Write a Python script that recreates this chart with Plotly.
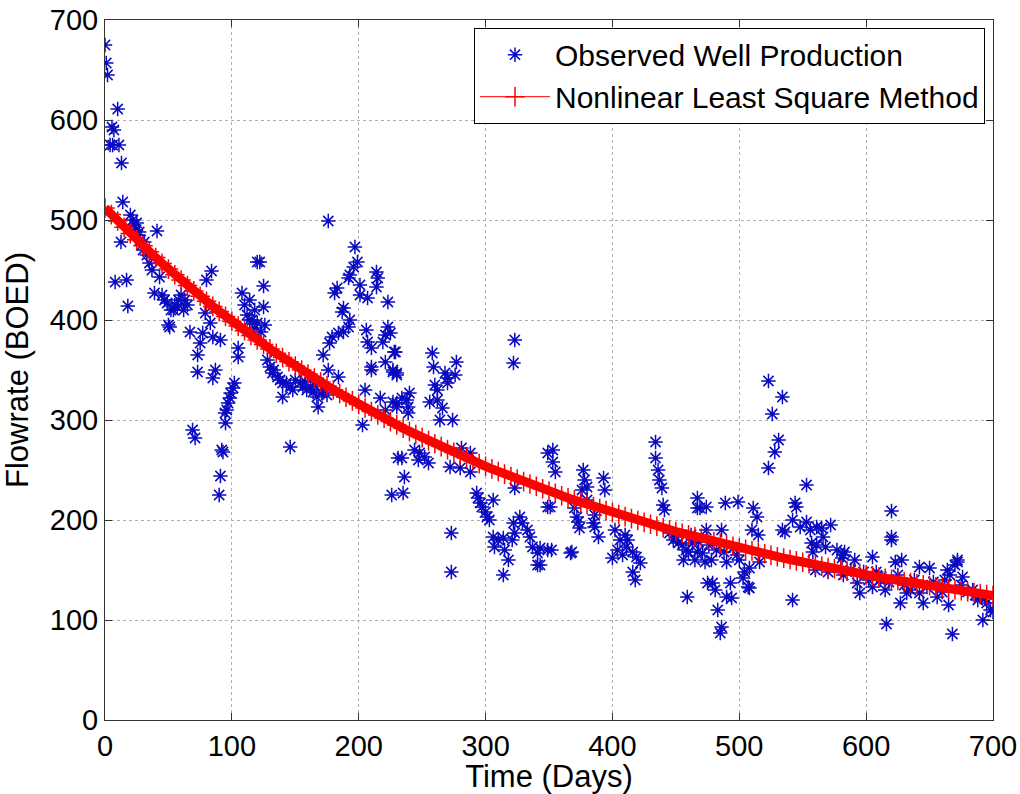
import plotly.graph_objects as go

# Observed well production (day, flowrate BOED)
obs_days = [
    0, 1, 2, 4, 5.5, 6, 7, 8, 10, 11, 13, 14, 12.6, 17, 18, 20, 22, 23, 24, 25, 26, 27, 28, 29, 30,
    31, 33, 35, 37, 39, 41, 43, 45, 47, 49, 50, 51, 52, 54, 55, 57, 58, 60, 62, 63, 65, 67, 69, 71,
    73, 73, 75, 77, 79, 80, 83, 84, 85, 85, 87, 90, 91, 91, 92, 93, 94.6, 95, 96, 97, 98.5, 99, 101,
    102, 105, 105, 108, 110, 112, 114, 116, 118, 120, 120, 122, 125, 125, 114, 118, 123, 126,
    128, 130, 132, 136, 138, 140, 143, 146, 140, 148, 154, 156, 159, 162, 164, 167, 168, 171, 175,
    146, 133, 150, 158, 165, 172,
    172, 176, 184, 176, 177, 179, 181, 183, 184, 187, 188, 188, 192, 192, 193, 193, 196, 197, 199,
    201, 201, 203, 205, 206, 207, 207, 210, 210, 210, 214, 215, 214, 217, 219, 221, 221, 221, 223,
    223, 225, 226, 227, 227, 228, 229, 230, 230, 231,
    227, 230, 234, 230, 238, 239, 239, 240, 244, 248, 252, 247, 255, 234, 236, 235, 256, 258, 259,
    260, 262, 262, 264, 266, 268, 270, 270, 274, 276, 277, 272, 273, 273, 280, 281, 288, 288, 293,
    294, 296, 297, 300, 301, 303, 306, 306, 307, 310, 314, 315, 318, 314, 321, 322, 323, 322, 323,
    323, 327, 329, 333, 335, 337, 341, 341, 349, 349, 349,
    343, 343, 351, 352, 353, 353, 355, 367, 368, 370, 372, 373, 374, 376, 377, 378, 380, 380, 385,
    386, 386, 389, 393, 394, 400, 402, 404, 406, 408, 410, 411, 412, 416, 416, 418, 419, 422, 434,
    434, 436, 437, 439, 440, 441, 445, 448, 450, 452, 455, 456, 458, 459, 460, 463, 465, 467, 467,
    467, 469, 471, 473, 474, 474,
    462, 468, 476, 482, 488, 495, 498,
    475, 478, 479, 481, 483, 485, 486, 486, 489, 490, 490, 493, 494, 499, 500, 503, 504, 507, 508,
    508, 510, 511, 514, 515, 516, 523, 523, 526, 528, 531, 534, 534, 536, 542, 542, 544, 545, 548,
    553, 553, 556, 557, 558, 560, 561, 561, 565, 566, 568, 570, 572, 577, 581, 582, 582, 583,
    591, 593, 595, 605, 605, 611, 615, 616, 620, 620, 620, 623, 627, 628, 632, 635, 642, 642, 645,
    650, 656, 664, 665, 666, 668, 670, 672, 672, 676, 684, 690, 692, 695, 698,
    588, 598, 602, 608, 612, 618, 625, 630, 638, 648, 653, 660, 662, 675, 680, 686, 688, 694, 700,
]
obs_flow = [
    675, 657, 645, 575, 593, 575, 590, 438, 611, 575, 557, 518, 478, 440, 414, 505, 500, 495, 490, 497, 485, 488, 480, 475, 470,
    478, 465, 457, 450, 427, 489, 443, 425, 420, 417, 395, 393, 410, 410, 415, 413, 420, 425, 410, 420, 415, 388, 290, 282,
    365, 348, 377, 387, 407, 440, 397, 449, 383, 342, 350, 225, 244, 380, 270, 268, 307, 297, 310, 317, 322, 327, 332,
    337, 372, 363, 427, 415, 405, 420, 400, 410, 458, 397, 458, 434, 413, 400, 392, 388, 395,
    360, 353, 347, 343, 340, 337, 337, 333, 323, 330, 337, 333, 330, 333, 328, 323, 313, 327, 325,
    273, 350, 340, 338, 335, 330,
    365, 350, 343, 499, 377, 383, 427, 432, 387, 408, 412, 388, 442, 393, 445, 400, 453, 473, 458,
    435, 425, 295, 330, 390, 378, 422, 372, 353, 350, 448, 442, 433, 322, 378, 385, 358, 310, 393,
    418, 387, 225, 348, 318, 368, 368, 347, 313, 262,
    350, 345, 322, 317, 320, 313, 307, 327, 270, 267, 263, 260, 257, 262, 243, 227, 318, 367, 353,
    335, 330, 320, 300, 312, 347, 342, 337, 300, 345, 358, 253, 187, 148, 252, 272, 267, 248, 227,
    222, 217, 213, 208, 203, 200, 220, 183, 173, 180, 182, 170, 160, 145, 180, 197, 187, 357, 380,
    232, 203, 197, 190, 183, 173, 167, 155, 170, 267, 213,
    172, 155, 213, 170, 270, 258, 248, 167, 168, 212, 203, 198, 192, 230, 250, 240, 233, 220, 197,
    205, 193, 183, 242, 230, 162, 190, 170, 180, 165, 185, 173, 180, 168, 148, 140, 163, 157, 278,
    262, 250, 240, 232, 215, 210, 187, 180, 183, 177, 175, 160, 170, 123, 168, 177, 160, 168, 222,
    212, 212, 167, 158, 213, 190,
    185, 178, 175, 170, 168, 172, 165,
    137, 160, 137, 130, 110, 87, 93, 190, 217, 158, 123, 137, 122, 218, 160, 142, 148, 133, 132,
    152, 190, 212, 203, 185, 158, 339, 252, 306, 268, 280, 323, 190, 188, 200, 120, 217, 213, 193,
    198, 235, 190, 177, 168, 150, 193, 175, 192, 183, 173, 148, 195, 170, 162, 165, 145, 168,
    160, 137, 127, 163, 133, 140, 130, 96, 209, 183, 180, 158, 117, 160, 127, 130, 153, 127, 117,
    152, 123, 150, 115, 145, 86, 155, 158, 160, 143, 130, 123, 100, 117, 110,
    150, 148, 140, 148, 143, 138, 145, 135, 140, 133, 138, 128, 140, 135, 128, 125, 120, 122, 108,
]

# Nonlinear least-square fit, every 5 days
fit_days = list(range(0, 701, 5))
fit_flow = [
    512.0, 505.4, 499.0, 492.7, 486.4, 480.3, 474.2, 468.3, 462.4, 456.6, 450.9, 445.3, 439.9, 434.4,
    429.1, 423.8, 418.7, 413.6, 408.6, 403.6, 398.7, 393.9, 389.2, 384.6, 380.0, 375.5, 371.1, 366.7,
    362.4, 358.2, 354.0, 349.9, 345.9, 341.9, 337.9, 334.1, 330.3, 326.5, 322.8, 319.1, 315.5, 312.0,
    308.5, 305.1, 301.7, 298.4, 295.1, 291.8, 288.6, 285.5, 282.4, 279.4, 276.3, 273.4, 270.4, 267.6,
    264.7, 261.9, 259.2, 256.4, 253.7, 251.1, 248.5, 245.9, 243.4, 240.9, 238.4, 236.0, 233.6, 231.2,
    228.9, 226.6, 224.3, 222.1, 219.9, 217.8, 215.6, 213.5, 211.4, 209.4, 207.4, 205.4, 203.4, 201.4,
    199.5, 197.6, 195.8, 193.9, 192.1, 190.3, 188.5, 186.8, 185.1, 183.4, 181.7, 180.1, 178.4, 176.8,
    175.3, 173.7, 172.1, 170.6, 169.1, 167.6, 166.2, 164.7, 163.3, 161.9, 160.5, 159.1, 157.8, 156.4,
    155.1, 153.8, 152.5, 151.3, 150.0, 148.8, 147.6, 146.4, 145.2, 144.1, 142.9, 141.8, 140.7, 139.5,
    138.4, 137.4, 136.3, 135.3, 134.2, 133.2, 132.2, 131.2, 130.2, 129.2, 128.2, 127.3, 126.4, 125.4,
    124.5,
]

tick_vals = [0, 100, 200, 300, 400, 500, 600, 700]
tick_text = ["0", "100", "200", "300", "400", "500", "600", "700"]

FONT = "Liberation Sans, Arial, sans-serif"
RED = "#ff0000"
BLUE = "#0a0ac0"

fig = go.Figure()
fig.add_trace(go.Scatter(
    x=obs_days, y=obs_flow, mode="markers", name="Observed Well Production",
    marker=dict(symbol="asterisk-open", size=12, color=BLUE,
                line=dict(color=BLUE, width=1.5)),
))
# dense band of the fitted curve (fit evaluated at every observation day in the original)
fig.add_trace(go.Scatter(
    x=fit_days, y=fit_flow, mode="lines", showlegend=False, hoverinfo="skip",
    line=dict(color=RED, width=9),
))
fig.add_trace(go.Scatter(
    x=fit_days, y=fit_flow, mode="lines+markers", name="Nonlinear Least Square Method",
    line=dict(color=RED, width=1),
    marker=dict(symbol="cross-thin-open", size=14, color=RED,
                line=dict(color=RED, width=1.5)),
))

axis_common = dict(
    range=[0, 700], tickvals=tick_vals, ticktext=tick_text,
    showline=True, linecolor="#333333", linewidth=1, mirror="ticks",
    ticks="inside", ticklen=7, tickcolor="#333333",
    showgrid=True, gridcolor="#b0b0b0", griddash="dot", gridwidth=1,
    zeroline=False, automargin=False,
    tickfont=dict(family=FONT, size=29, color="black"),
)

fig.update_layout(
    width=1020, height=794,
    margin=dict(l=105, r=27, t=20, b=74, autoexpand=False),
    paper_bgcolor="white", plot_bgcolor="white",
    font=dict(family=FONT, color="black"),
    xaxis=dict(**axis_common, title=dict(text="Time (Days)", font=dict(family=FONT, size=31))),
    yaxis=dict(**axis_common, title=dict(text="Flowrate (BOED)", font=dict(family=FONT, size=31))),
    legend=dict(x=0.991, y=0.989, xanchor="right", yanchor="top",
                bgcolor="white", bordercolor="black", borderwidth=1,
                font=dict(family=FONT, size=30, color="black"),
                itemwidth=70, tracegroupgap=0),
    showlegend=True,
)

fig.write_html("out.html")
